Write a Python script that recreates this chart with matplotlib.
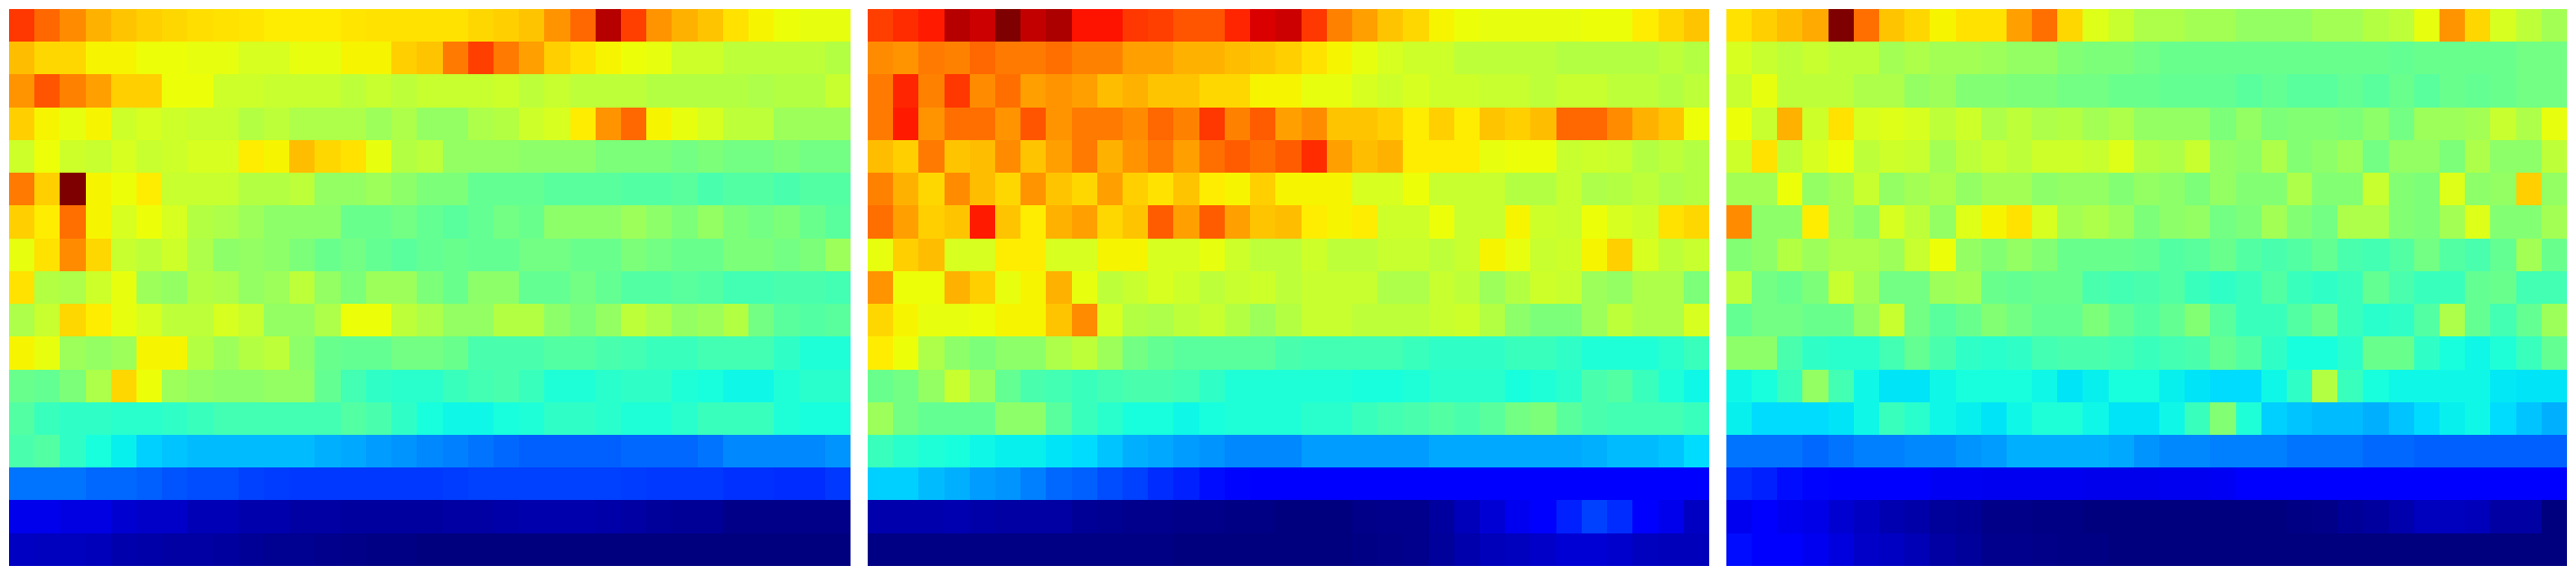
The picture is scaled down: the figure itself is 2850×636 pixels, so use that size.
import numpy as np
import matplotlib
matplotlib.use('Agg')
import matplotlib.pyplot as plt


left_rows = [
    [85,80,76,72,70,69,68,67.5,67,66.5,66,66,66,66.5,67,67,67,67,68,69,70,75,80,95,84,75,72,70,67,65,64,63,63],
    [71,68,68,65,65,64,64,63,63,61,61,63,63,65,65,69,70,78,84,78,74,69,67,65,64,63,60,60,58,58,58,58,57],
    [75,82,77,74,69,69,64,64,60,60,59,59,59,58,59,58,59,59,59,60,58,59,58,58,58,57,57,57,57,56,57,57,59],
    [69,65,63,65,60,61,60,59,59,57,58,56,56,56,54,56,53,53,56,57,60,61,66,75,80,65,63,61,58,58,54,54,54],
    [60,64,60,59,61,59,60,61,61,66,65,71,68,67,63,57,58,53,53,53,52,52,52,50,50,50,49,50,49,49,50,49,49],
    [78,69,100,65,64,66,59,59,59,57,57,58,53,53,54,52,50,50,47,47,47,46,46,46,45,45,46,44,45,45,44,45,45],
    [69,66,79,65,61,64,61,57,56,54,52,52,52,48,48,49,47,46,47,49,48,52,52,52,54,52,50,53,50,49,50,48,46],
    [63,67,76,68,59,58,60,56,52,53,52,50,48,49,47,46,47,48,47,47,49,49,48,48,50,49,48,48,50,50,49,50,54],
    [67,57,56,60,63,54,53,57,56,53,54,58,53,50,54,54,50,48,52,52,47,47,49,47,45,45,46,45,43,43,44,44,43],
    [56,59,68,66,63,61,58,58,61,59,53,53,56,64,64,58,56,53,53,57,57,52,50,53,58,56,53,54,57,49,46,45,46],
    [65,63,54,53,54,65,65,57,54,57,58,52,48,47,47,49,49,48,44,44,44,45,45,44,43,42,42,43,43,43,41,39,39],
    [48,47,50,56,68,64,54,53,52,52,53,53,47,43,41,40,40,42,43,44,42,39,39,40,41,41,39,38,37,37,39,40,40],
    [45,42,41,41,40,40,41,42,43,43,43,43,43,45,44,41,38,37,37,38,39,41,41,40,39,39,40,42,42,42,39,38,38],
    [44,45,41,38,36,33,32,31,31,31,31,31,30,29,28,27,26,25,24,23,22,22,22,22,23,23,23,24,26,26,26,26,27],
    [24,24,24,23,23,22,21,20,20,19,18.5,18,18,18,18,18,18,18.5,19,19,19,19,19,19,18.5,18,18,18,17.5,17.5,17,17,18],
    [9.4,9.4,8.6,8.6,7.3,6.4,6.4,5,5,4.1,4.1,3.5,3.2,3,3,3,3,3.3,3.5,3.8,4,4.2,4,3.8,3.5,2.4,2.2,2,1,1,1,1,0.8],
    [6,5.8,5.5,5.2,4,3.8,3.5,3.2,3,2,1.8,1.6,1.2,1,0.5,0.4,0.2,0.3,0.2,0.2,0,0,0,0,0,0,0,0,0,0,0,0,0],
]

mid_rows = [
    [84,86,88,95,93,100,94,96,89,89,85,84,82,82,87,92,93,85,77,74,70,68,65,64,63,63,63,63,64,64,66,68,70],
    [76,75,78,77,80,78,78,79,77,77,74,74,72,72,71,70,69,67,65,63,61,60,60,58,58,58,58,57,57,57,57,58,57],
    [78,87,77,85,76,79,74,75,74,71,72,70,70,68,68,65,65,63,63,61,60,61,60,60,59,59,58,59,59,58,58,57,58],
    [78,88,75,79,79,75,82,75,78,78,76,80,77,85,77,81,74,76,70,70,69,66,69,66,70,69,71,80,80,76,72,70,64],
    [71,69,78,70,71,76,70,74,78,72,75,78,74,79,81,79,81,86,74,71,72,66,66,66,63,64,64,59,60,59,57,58,57],
    [77,72,68,76,71,68,75,70,68,74,69,67,70,66,65,69,65,65,65,61,61,64,59,59,59,57,57,59,56,57,58,56,57],
    [79,74,69,70,88,70,66,72,74,68,70,81,74,81,74,70,71,66,65,66,60,60,64,59,59,65,60,59,64,61,60,67,68],
    [63,69,71,61,61,66,66,61,61,65,65,61,61,63,60,58,58,60,58,58,59,59,58,59,65,63,59,60,65,69,61,58,59],
    [75,64,64,72,69,63,65,72,63,58,59,61,60,58,59,60,58,59,59,59,56,56,59,58,54,57,60,59,54,53,56,56,50],
    [68,65,63,63,64,65,65,70,76,61,57,56,58,59,57,54,57,59,59,58,58,58,59,60,57,52,50,50,54,58,56,56,61],
    [66,64,56,52,50,52,52,56,58,54,49,47,46,46,46,46,44,43,43,43,43,42,41,41,41,42,42,41,39,39,39,40,42],
    [48,49,53,59,54,47,44,43,42,43,44,44,43,41,39,39,39,39,39,38,38,39,40,40,40,38,39,40,44,45,42,39,37],
    [54,49,47,47,47,52,52,46,42,40,38,38,37,38,39,39,39,40,40,42,43,44,45,44,46,49,50,46,44,43,43,43,42],
    [42,40,39,38,37,36,36,35,34,32,30,29,28,27,26,26,26,28,28,28,28,28,29,29,29,29,29,29,30,31,31,32,34],
    [33,33,31,30,28,27,25,23,22,20,19,17,16,14,13,12,12,12,12,12,12,12,12,12,12,12,12,12,12,12,12,12,12],
    [4,4,4,4.4,3.7,3.5,3.5,3.2,2,1.8,1.5,1.5,1,0.8,0.6,0.4,0.3,0,0.2,0.8,1.2,1.4,3,5.4,7.6,9.8,11,16,19,17,11,9.4,6],
    [0.7,0.7,0.7,0.6,0.6,0.6,0.5,0.5,0.5,0.4,0.4,0.4,0.3,0.3,0.3,0.2,0.2,0,0,0.5,1,1.5,2.5,4,5.4,5.5,6.5,7.5,7.5,7,5.8,5.4,5.4],
]

right_rows = [
    [67,69,71,73,100,79,70,68,65,67,67,74,79,68,62,59,56,56,55,55,53,53,53,55,55,57,58,63,75,68,61,58,55],
    [61,59,58,59,58,58,55,56,55,55,54,53,53,51,50,50,49,48,48,48,48,48,48,48,48,48,47,48,48,48,48,49,49],
    [59,63,58,58,58,56,56,53,54,51,51,50,50,49,49,48,48,47,47,47,46,47,46,46,47,46,48,46,48,47,48,49,49],
    [64,59,72,60,67,61,62,61,58,60,56,58,56,57,55,56,53,53,53,50,53,50,51,51,50,52,49,54,54,55,59,56,63],
    [60,67,58,61,64,58,60,59,55,58,59,58,60,60,59,62,57,56,59,53,52,56,51,52,54,49,53,53,50,56,52,52,58],
    [55,55,64,53,55,59,53,55,56,53,55,55,52,53,53,51,53,52,50,53,51,51,56,51,51,59,51,50,62,52,53,69,53],
    [76,52,52,66,55,52,61,58,53,62,65,67,61,55,56,54,50,52,53,49,50,55,51,49,56,56,51,50,55,62,51,51,55],
    [51,52,57,54,56,56,54,59,64,53,51,53,51,48,48,48,47,45,46,48,45,44,45,47,44,43,45,49,45,44,47,55,48],
    [58,49,48,50,59,55,49,49,54,55,48,47,48,48,44,43,44,45,42,41,42,45,42,41,42,47,44,42,42,47,48,43,43],
    [47,49,49,48,48,53,59,49,46,48,51,49,47,47,50,47,45,47,51,46,42,42,45,48,42,40,41,45,56,47,43,47,54],
    [52,52,44,41,40,40,43,47,44,41,40,41,43,44,44,43,42,43,44,47,45,41,38,38,40,48,48,41,38,37,39,42,47],
    [37,38,42,53,43,37,35,35,37,38,38,38,37,35,36,38,38,36,35,34,34,37,41,57,42,38,37,37,37,37,35.5,35,35],
    [36,34,34,34,35,37,42,40,37,36,35,37,39,39,37,35,35,37,42,51,39,33,32,31,31,30,32,34,36,37,34,32,30],
    [24,24,24,23,24,25,25,26,26,27,28,30,30,30,30,29,27,26,26,25,25,25,24,24,24,23,23,22,22,22,22,22,22],
    [17,16,14,13,12,12,12,12,10.5,10.5,10,10,9.8,9.8,9.4,9.4,9.4,9.8,10,10.5,11,12,12,12,12,12,12,12,12,12,12,12,12],
    [10,11,10,9,7.3,6,4.6,3.7,2.4,2,1,0.8,0.6,0.4,0.2,0,0,0,0,0,0,0,0.6,1,2,2.8,4,5.8,5.8,5.4,3.2,3.2,0.2],
    [14,11,11,9.8,8.5,6.3,6,5,3.2,2.4,1.5,1.2,1,0.7,0.4,0.2,0,0,0,0,0,0,0,0,0,0,0,0,0,0,0,0,0],
]

panel_left = [10, 960, 1910]
panel_width = 930
fig_w, fig_h = 2850, 636

fig = plt.figure(figsize=(fig_w/100, fig_h/100), dpi=100)

for rows, x0 in zip([left_rows, mid_rows, right_rows], panel_left):
    ax = fig.add_axes([x0/fig_w, 10/fig_h, panel_width/fig_w, 616/fig_h])
    ax.imshow(np.array(rows, dtype=float), cmap='jet', vmin=0, vmax=100,
              aspect='auto', interpolation='nearest')
    ax.axis('off')

fig.savefig('out.png', dpi=100)
